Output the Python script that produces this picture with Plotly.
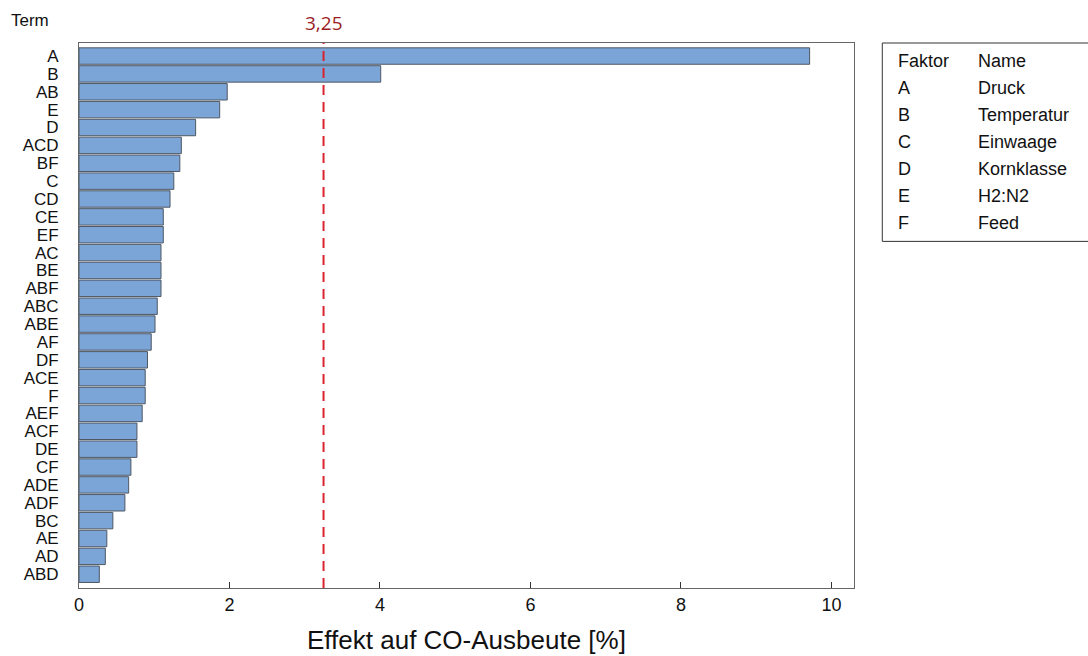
import plotly.graph_objects as go

# Effect terms, sorted by magnitude (largest first)
terms = ["A", "B", "AB", "E", "D", "ACD", "BF", "C", "CD", "CE", "EF", "AC", "BE",
         "ABF", "ABC", "ABE", "AF", "DF", "ACE", "F", "AEF", "ACF", "DE", "CF",
         "ADE", "ADF", "BC", "AE", "AD", "ABD"]
effects = [9.71, 4.01, 1.97, 1.87, 1.55, 1.36, 1.34, 1.26, 1.21, 1.12, 1.12, 1.09, 1.09,
           1.09, 1.04, 1.01, 0.96, 0.91, 0.88, 0.88, 0.84, 0.77, 0.77, 0.69,
           0.66, 0.61, 0.45, 0.37, 0.35, 0.27]
threshold = 3.25
threshold_label = "3,25"
x_title = "Effekt auf CO-Ausbeute [%]"

# Factor legend table
factor_codes = ["A", "B", "C", "D", "E", "F"]
factor_names = ["Druck", "Temperatur", "Einwaage", "Kornklasse", "H2:N2", "Feed"]

FONT = "Liberation Sans, Arial, sans-serif"

fig = go.Figure()
fig.add_trace(go.Bar(
    x=effects,
    y=list(range(len(terms))),
    orientation="h",
    marker=dict(color="#7ba4d7", line=dict(color="#4f5864", width=1)),
    width=0.92,
    hoverinfo="x+text",
    text=terms,
    textposition="none",
))

fig.add_shape(type="line", xref="x", yref="paper",
              x0=threshold, x1=threshold, y0=0, y1=1,
              line=dict(color="#d9232e", width=2, dash="10px,7px"))

annotations = [
    dict(x=threshold, y=1.0, xref="x", yref="paper", text=threshold_label,
         showarrow=False, yanchor="bottom", yshift=5,
         font=dict(family="Open Sans, sans-serif", size=19, color="#9b1c23")),
    dict(x=-0.090, y=1.0, xref="paper", yref="paper", text="Term",
         showarrow=False, xanchor="left", yanchor="bottom", yshift=11,
         font=dict(family=FONT, size=17, color="#111")),
    dict(x=0.5, y=-0.096, xref="paper", yref="paper", text=x_title,
         showarrow=False, xanchor="center", yanchor="middle",
         font=dict(family=FONT, size=26, color="#111")),
]

# Factor table
fig.add_shape(type="rect", xref="paper", yref="paper",
              x0=1.0365, x1=1.32, y0=0.636, y1=1.0,
              line=dict(color="#333", width=1), fillcolor="white")
row_y = [0.967 - 0.0495 * i for i in range(7)]
codes_col = ["Faktor"] + factor_codes
names_col = ["Name"] + factor_names
for yy, c, n in zip(row_y, codes_col, names_col):
    annotations.append(dict(x=1.054, y=yy, xref="paper", yref="paper", text=c,
                            showarrow=False, xanchor="left", yanchor="middle",
                            font=dict(family=FONT, size=18, color="#111")))
    annotations.append(dict(x=1.158, y=yy, xref="paper", yref="paper", text=n,
                            showarrow=False, xanchor="left", yanchor="middle",
                            font=dict(family=FONT, size=18, color="#111")))

fig.update_layout(
    width=1088, height=656,
    margin=dict(l=79, r=234, t=43, b=68),
    paper_bgcolor="white", plot_bgcolor="white",
    showlegend=False,
    annotations=annotations,
    font=dict(family=FONT, color="#111"),
)
fig.update_xaxes(
    range=[0, 10.3], tickvals=[0, 2, 4, 6, 8, 10],
    ticks="inside", ticklen=6, tickcolor="#333",
    showgrid=False, zeroline=False,
    showline=True, linecolor="#666", linewidth=1, mirror=True,
    tickfont=dict(family=FONT, size=18, color="#111"),
)
fig.update_yaxes(
    range=[29.77, -0.73],
    tickvals=list(range(len(terms))), ticktext=terms,
    ticks="", showgrid=False, zeroline=False,
    showline=True, linecolor="#666", linewidth=1, mirror=True,
    tickfont=dict(family=FONT, size=17, color="#111"),
    ticklabelstandoff=16,
)

fig.write_html("out.html")
